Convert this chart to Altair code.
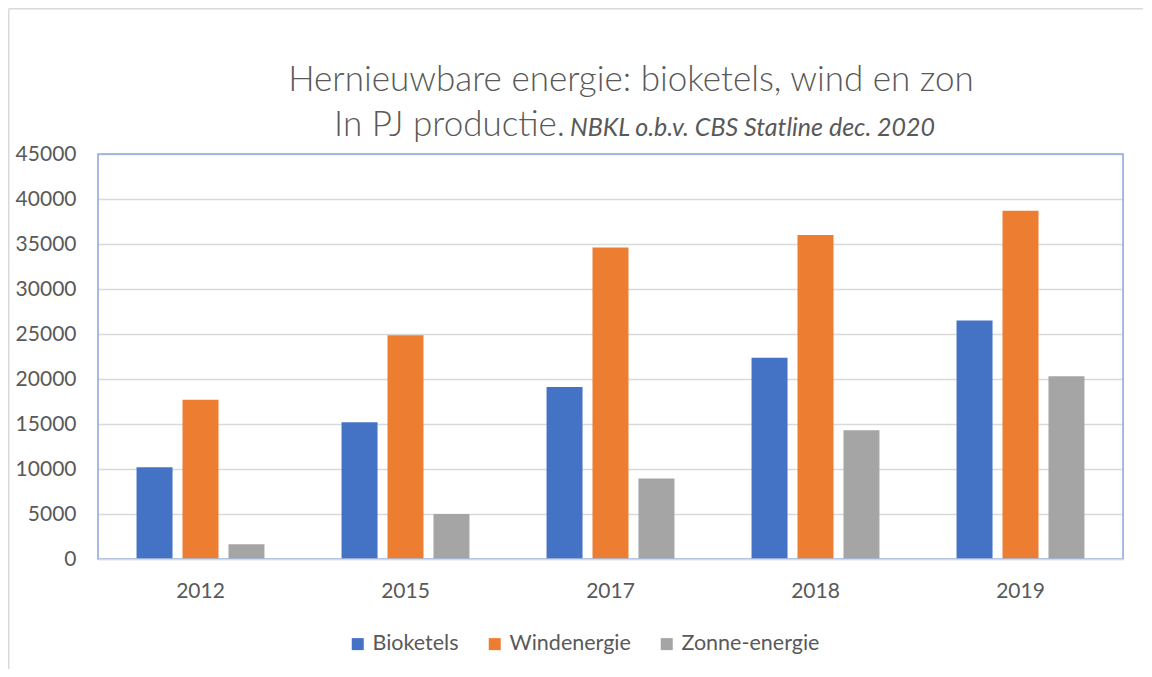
import altair as alt
import pandas as pd

years = ["2012", "2015", "2017", "2018", "2019"]
series = ["Bioketels", "Windenergie", "Zonne-energie"]
bioketels = [10200, 15200, 19100, 22350, 26500]
windenergie = [17700, 24850, 34600, 36000, 38700]
zonne_energie = [1650, 5000, 8950, 14300, 20300]
colors = ["#4472C4", "#ED7D31", "#A5A5A5"]

title_line1 = "Hernieuwbare energie: bioketels, wind en zon"
title_line2a = "In PJ productie."
title_line2b = "NBKL o.b.v. CBS Statline dec. 2020"

rows = []
for name, vals in zip(series, [bioketels, windenergie, zonne_energie]):
    for y, v in zip(years, vals):
        rows.append({"Jaar": y, "Serie": name, "Waarde": v})
df = pd.DataFrame(rows)
one = pd.DataFrame({"k": [0]})

W, H = 1025, 405
PL, PT, PR, PB = 90, 146, 20, 110
FONT = "Lato"
GRAY = "#595959"

bars = alt.Chart(df).mark_bar().encode(
    x=alt.X("Jaar:N", sort=years, title=None,
            scale=alt.Scale(paddingInner=0.376, paddingOuter=0.188),
            axis=alt.Axis(labelAngle=0, labelFontSize=21, labelColor=GRAY, labelFont=FONT,
                          labelPadding=21, ticks=False, domainColor="#d9d9d9", domainWidth=1.5,
                          grid=False, zindex=1)),
    xOffset=alt.XOffset("Serie:N", sort=series, scale=alt.Scale(paddingInner=0.217)),
    y=alt.Y("Waarde:Q", title=None,
            scale=alt.Scale(domain=[0, 45000]),
            axis=alt.Axis(values=list(range(0, 45001, 5000)), format="d", labelFontSize=21,
                          labelColor=GRAY, labelFont=FONT, labelPadding=22, ticks=False,
                          domain=False, gridColor="#d9d9d9", gridWidth=1.5)),
    color=alt.Color("Serie:N", sort=series, scale=alt.Scale(domain=series, range=colors),
                    legend=alt.Legend(title=None, orient="none", direction="horizontal",
                                      legendX=249, legendY=479, symbolType="square",
                                      symbolSize=144, symbolStrokeWidth=0, labelFontSize=21.5,
                                      labelColor=GRAY, labelFont=FONT, columnPadding=25,
                                      labelOffset=4)),
)

plot_border = alt.Chart(one).mark_rect(fill="transparent", stroke="#8eaadb", strokeWidth=1.5).encode(
    x=alt.value(0), x2=alt.value(W), y=alt.value(0), y2=alt.value(H)
)

frame_top = alt.Chart(one).mark_rule(stroke="#d9d9d9", strokeWidth=1.5).encode(
    x=alt.value(-PL + 0.75), x2=alt.value(W + PR), y=alt.value(-PT + 0.75)
)
frame_left = alt.Chart(one).mark_rule(stroke="#d9d9d9", strokeWidth=1.5).encode(
    x=alt.value(-PL + 0.75), y=alt.value(-PT + 0.75), y2=alt.value(H + PB)
)

t1 = alt.Chart(one).mark_text(text=title_line1, fontSize=35, font=FONT, fontWeight=300,
                              color=GRAY, align="center", baseline="alphabetic").encode(
    x=alt.value(533), y=alt.value(-63))
t2a = alt.Chart(one).mark_text(text=title_line2a, fontSize=35, font=FONT, fontWeight=300,
                               color=GRAY, align="right", baseline="alphabetic").encode(
    x=alt.value(467), y=alt.value(-18))
t2b = alt.Chart(one).mark_text(text=title_line2b, fontSize=25, font=FONT, fontStyle="italic",
                               fontWeight=400, color=GRAY, align="left", baseline="alphabetic").encode(
    x=alt.value(472), y=alt.value(-18))

chart = alt.layer(frame_top, frame_left, bars, plot_border, t1, t2a, t2b).properties(
    width=W, height=H,
    autosize=alt.AutoSizeParams(type="none"),
    padding={"left": PL, "top": PT, "right": PR, "bottom": PB},
).configure_view(stroke=None).configure(background="white")

chart.save("out.html", embed_options={"renderer": "svg", "actions": False})
